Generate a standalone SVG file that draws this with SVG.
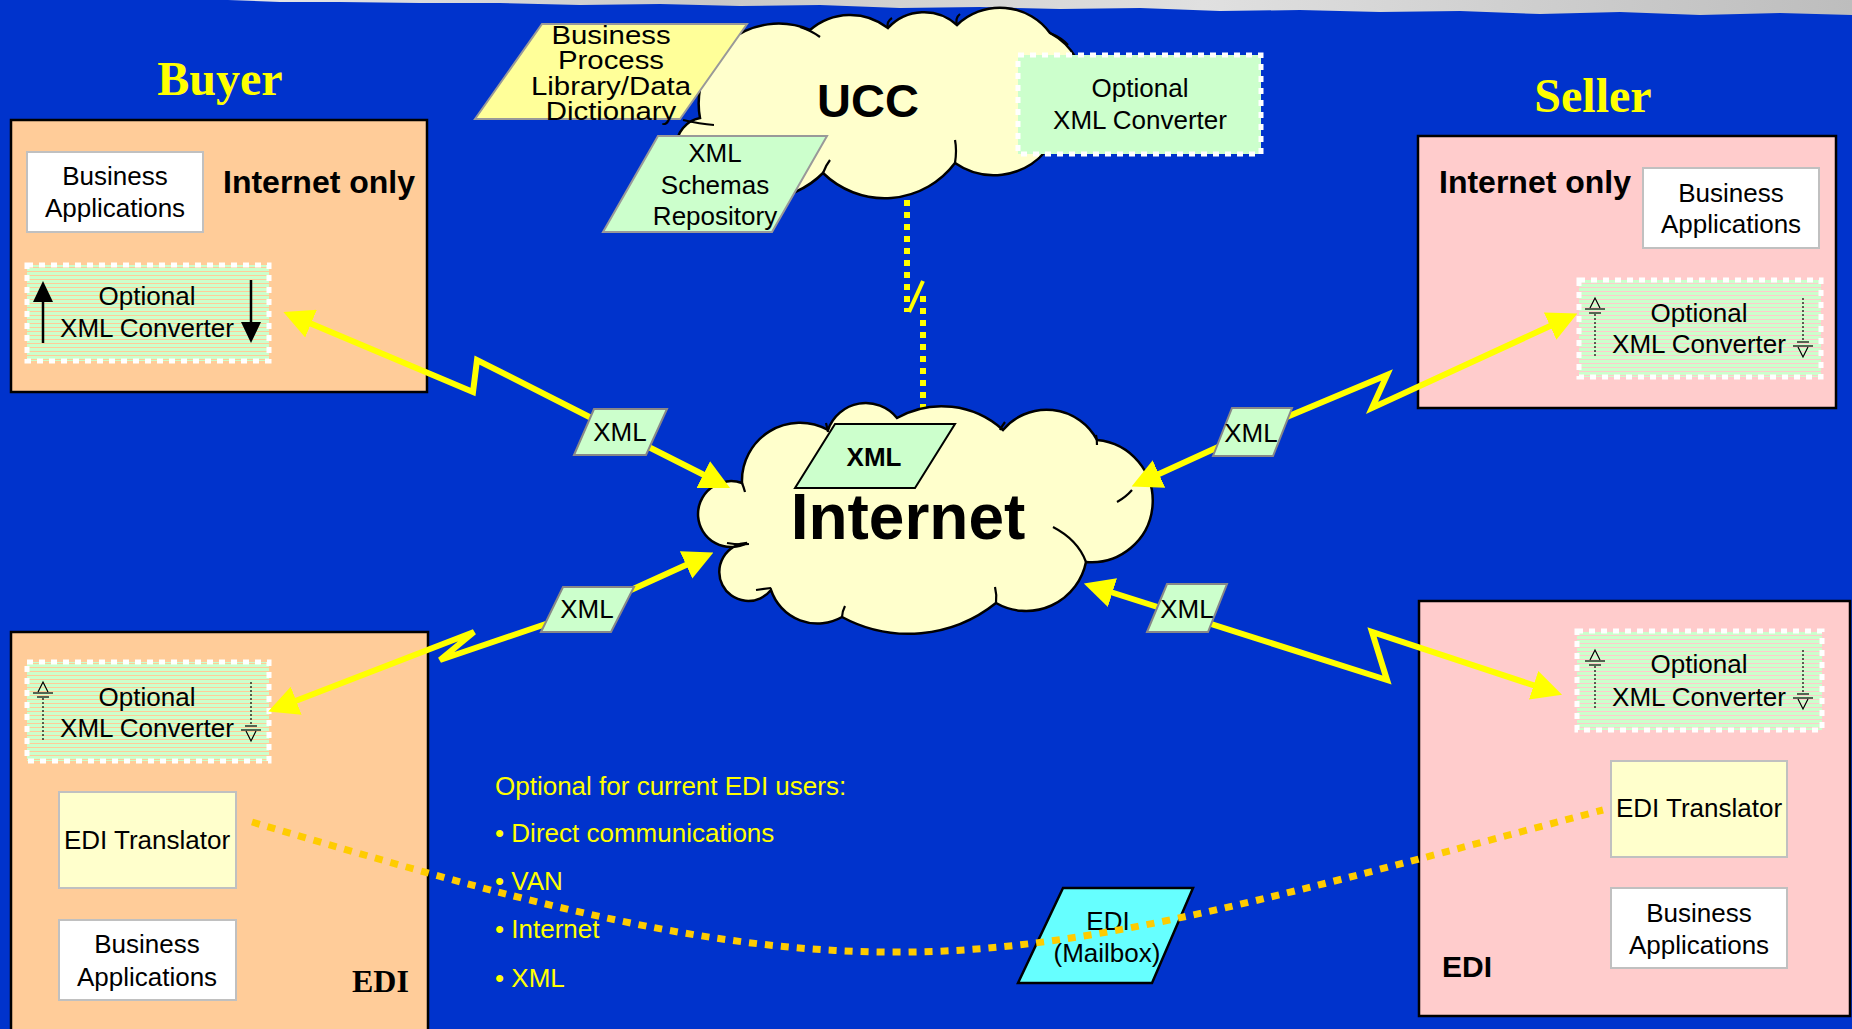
<svg xmlns="http://www.w3.org/2000/svg" width="1852" height="1029" viewBox="0 0 1852 1029">
<defs>
<style>
.t{font-family:"Liberation Sans",Arial,sans-serif;font-size:26px;fill:#000;text-anchor:middle}
.tb{font-family:"Liberation Sans",Arial,sans-serif;font-weight:bold;fill:#000}
.ttl{font-family:"Liberation Serif","Times New Roman",serif;font-weight:bold;font-size:48px;fill:#FFFF00;text-anchor:middle}
.box{stroke:#000;stroke-width:2.5}
.app{fill:#fff;stroke:#C0C0C0;stroke-width:2}
.trans{fill:#FFFFCC;stroke:#C0C0C0;stroke-width:2}
.conv{stroke:#fff;stroke-width:5;stroke-dasharray:6 6}
.cloud{fill:#FFFFCC;stroke:#000;stroke-width:2.5}
.lip{fill:none;stroke:#000;stroke-width:2.2}
.xmlp{fill:#CCFFCC;stroke:#888;stroke-width:2}
.conn{fill:none;stroke:#FFFF00;stroke-width:6;marker-start:url(#ah);marker-end:url(#ah)}
.note{font-family:"Liberation Sans",Arial,sans-serif;font-size:26px;fill:#FFFF00}
.sym{fill:none;stroke:#000;stroke-width:1.2}
</style>
<pattern id="stripes" patternUnits="userSpaceOnUse" width="8" height="4"><rect width="8" height="3" fill="#CCFFCC"/></pattern>
<linearGradient id="marble" x1="0" y1="0" x2="1" y2="0">
<stop offset="0" stop-color="#E8E8E8"/><stop offset="0.3" stop-color="#C8C8C8"/><stop offset="0.6" stop-color="#E0E0E0"/><stop offset="1" stop-color="#BDBDBD"/>
</linearGradient>
<marker id="ah" viewBox="0 0 10 10" refX="4" refY="5" markerWidth="5" markerHeight="5" orient="auto-start-reverse"><path d="M0,0 L10,5 L0,10 z" fill="#FFFF00"/></marker>
<g id="symUp">
<line class="sym" x1="0" y1="16" x2="0" y2="59" stroke-dasharray="2 2"/>
<path class="sym" d="M-5,10 L0,0 L5,10"/>
<line class="sym" x1="-10" y1="11" x2="10" y2="11" stroke-width="1.5"/>
<line class="sym" x1="-6" y1="15" x2="6" y2="15"/>
</g>
<g id="symDown">
<line class="sym" x1="0" y1="0" x2="0" y2="43" stroke-dasharray="2 2"/>
<line class="sym" x1="-10" y1="48" x2="10" y2="48" stroke-width="1.5"/>
<line class="sym" x1="-6" y1="44" x2="6" y2="44"/>
<path class="sym" d="M-5,49 L0,59 L5,49"/>
</g>
</defs>

<rect width="1852" height="1029" fill="#0033CC"/>
<polygon points="228,0 1852,0 1852,15 1780,13 1700,15 1620,12 1540,14 1460,11 1380,12 1300,10 1220,11 1140,8 1060,9 980,7 900,8 820,5 740,6 660,4 580,5 500,3 420,3 340,2 280,2" fill="url(#marble)"/>

<text class="ttl" x="220" y="95">Buyer</text>
<text class="ttl" x="1593" y="112">Seller</text>

<g id="buyer-internet">
<rect class="box" x="11" y="120" width="416" height="272" fill="#FFCC99"/>
<text class="tb" x="223" y="193" font-size="32">Internet only</text>
</g>
<g id="buyer-internet-apps">
<rect class="app" x="27" y="152" width="176" height="80"/>
<text class="t" x="115" y="185">Business</text>
<text class="t" x="115" y="217">Applications</text>
</g>
<g id="buyer-internet-conv">
<rect class="conv" x="27" y="265" width="242" height="96" fill="url(#stripes)"/>
<text class="t" x="147" y="305">Optional</text>
<text class="t" x="147" y="337">XML Converter</text>
<line x1="43" y1="343" x2="43" y2="300" stroke="#000" stroke-width="2.5"/>
<polygon points="33,302 43,281 53,302" fill="#000"/>
<line x1="251" y1="280" x2="251" y2="324" stroke="#000" stroke-width="2.5"/>
<polygon points="241,322 251,343 261,322" fill="#000"/>
</g>

<g id="buyer-edi">
<rect class="box" x="11" y="632" width="417" height="410" fill="#FFCC99"/>
<text x="352" y="992" font-family="Liberation Serif,serif" font-weight="bold" font-size="32" fill="#000">EDI</text>
</g>
<g id="buyer-edi-conv">
<rect class="conv" x="27" y="662" width="242" height="99" fill="url(#stripes)"/>
<text class="t" x="147" y="706">Optional</text>
<text class="t" x="147" y="737">XML Converter</text>
<use href="#symUp" x="43" y="682"/>
<use href="#symDown" x="251" y="682"/>
</g>
<g id="buyer-edi-translator">
<rect class="trans" x="59" y="792" width="177" height="96"/>
<text class="t" x="147" y="849">EDI Translator</text>
</g>
<g id="buyer-edi-apps">
<rect class="app" x="59" y="920" width="177" height="80"/>
<text class="t" x="147" y="953">Business</text>
<text class="t" x="147" y="986">Applications</text>
</g>

<g id="seller-internet">
<rect class="box" x="1418" y="136" width="418" height="272" fill="#FFCCCC"/>
<text class="tb" x="1439" y="193" font-size="32">Internet only</text>
</g>
<g id="seller-internet-apps">
<rect class="app" x="1643" y="168" width="176" height="80"/>
<text class="t" x="1731" y="202">Business</text>
<text class="t" x="1731" y="233">Applications</text>
</g>
<g id="seller-internet-conv">
<rect class="conv" x="1579" y="280" width="242" height="97" fill="url(#stripes)"/>
<text class="t" x="1699" y="322">Optional</text>
<text class="t" x="1699" y="353">XML Converter</text>
<use href="#symUp" x="1595" y="298"/>
<use href="#symDown" x="1803" y="298"/>
</g>

<g id="seller-edi">
<rect class="box" x="1419" y="601" width="431" height="415" fill="#FFCCCC"/>
<text class="tb" x="1442" y="977" font-size="30">EDI</text>
</g>
<g id="seller-edi-conv">
<rect class="conv" x="1577" y="631" width="245" height="99" fill="url(#stripes)"/>
<text class="t" x="1699" y="673">Optional</text>
<text class="t" x="1699" y="706">XML Converter</text>
<use href="#symUp" x="1595" y="650"/>
<use href="#symDown" x="1803" y="650"/>
</g>
<g id="seller-edi-translator">
<rect class="trans" x="1611" y="761" width="176" height="96"/>
<text class="t" x="1699" y="817">EDI Translator</text>
</g>
<g id="seller-edi-apps">
<rect class="app" x="1611" y="888" width="176" height="80"/>
<text class="t" x="1699" y="922">Business</text>
<text class="t" x="1699" y="954">Applications</text>
</g>

<g id="ucc">
<path class="cloud" d="M700 175 A29 29 0 0 1 700 118 A80 80 0 0 1 810 30 A61 61 0 0 1 888 28 A49 49 0 0 1 957 25 A62 62 0 0 1 1050 33 A66 66 0 0 1 1045 152 A68 68 0 0 1 955 163 A88 88 0 0 1 823 173 A88 88 0 0 1 700 175 Z"/>
<path class="lip" d="M683 120 Q700 124 714 125"/>
<path class="lip" d="M800 27 Q812 31 820 37"/>
<path class="lip" d="M888 28 Q886 22 892 18"/>
<path class="lip" d="M957 25 Q955 18 960 14"/>
<path class="lip" d="M1050 33 Q1062 38 1068 45"/>
<path class="lip" d="M955 163 Q957 150 955 140"/>
<path class="lip" d="M823 173 Q826 165 830 160"/>
<text class="tb" x="868" y="117" font-size="47" text-anchor="middle">UCC</text>
</g>
<g id="bp-library">
<polygon points="475,119 542,24 747,24 680,119" fill="#FFFF99" stroke="#999" stroke-width="2"/>
<g transform="matrix(1.13,0,0,1,611,0)">
<text class="t" x="0" y="44" font-size="23">Business</text>
<text class="t" x="0" y="69.5" font-size="23">Process</text>
<text class="t" x="0" y="95" font-size="23">Library/Data</text>
<text class="t" x="0" y="120.5" font-size="23">Dictionary</text>
</g>
</g>
<g id="xml-schemas">
<polygon points="603,232 658,136 827,136 772,232" fill="#CCFFCC" stroke="#999" stroke-width="2"/>
<text class="t" x="715" y="162">XML</text>
<text class="t" x="715" y="194">Schemas</text>
<text class="t" x="715" y="225">Repository</text>
</g>
<g id="ucc-conv">
<rect class="conv" x="1018" y="55" width="243" height="99" fill="#CCFFCC"/>
<text class="t" x="1140" y="97">Optional</text>
<text class="t" x="1140" y="129">XML Converter</text>
</g>

<g id="ucc-link">
<line x1="907" y1="200" x2="907" y2="312" stroke="#FFFF00" stroke-width="6" stroke-dasharray="6 6"/>
<line x1="923" y1="296" x2="923" y2="423" stroke="#FFFF00" stroke-width="6" stroke-dasharray="6 6"/>
<line x1="923" y1="281" x2="909" y2="312" stroke="#FFFF00" stroke-width="4"/>
</g>

<g id="internet">
<path class="cloud" d="M742 483 A58 58 0 0 1 828 430 A40 40 0 0 1 897 418 A91 91 0 0 1 1003 430 A57 57 0 0 1 1097 440 A61 61 0 0 1 1086 562 A61 61 0 0 1 996 603 A140 140 0 0 1 842 617 A49 49 0 0 1 771 590 A29 29 0 1 1 747 543 A33 33 0 1 1 742 483 Z"/>
<path class="lip" d="M727 543 Q738 545 749 544"/>
<path class="lip" d="M742 483 Q744 488 745 492"/>
<path class="lip" d="M756 590 L771 588"/>
<path class="lip" d="M842 617 Q842 612 845 606"/>
<path class="lip" d="M995 587 Q997 595 996 603"/>
<path class="lip" d="M1053 527 Q1078 540 1086 562"/>
<path class="lip" d="M1117 502 Q1126 497 1132 490"/>
<path class="lip" d="M1096 435 Q1097 439 1097 445"/>
<path class="lip" d="M1000 430 Q1002 426 1005 422"/>
<path class="lip" d="M826 423 Q827 427 828 432"/>
<polygon points="795,488 835,424 955,424 915,488" fill="#CCFFCC" stroke="#000" stroke-width="2"/>
<text class="tb" x="874" y="466" font-size="26" text-anchor="middle">XML</text>
<text class="tb" x="908" y="539" font-size="64" text-anchor="middle">Internet</text>
</g>

<g id="connectors">
<path class="conn" d="M300 319 L473 392 L477 360 L619 432 L714 480"/>
<path class="conn" d="M1561 321 L1372 408 L1387 375 L1251 432 L1148 479"/>
<path class="conn" d="M285 705 L474 632 L440 660 L587 610 L697 560"/>
<path class="conn" d="M1101 589 L1387 680 L1372 632 L1545 689"/>
</g>

<g id="xml-label-1"><polygon class="xmlp" points="574,455 594,409 667,409 646,455"/><text class="t" x="620" y="441">XML</text></g>
<g id="xml-label-2"><polygon class="xmlp" points="1213,456 1232,408 1292,408 1273,456"/><text class="t" x="1251" y="442">XML</text></g>
<g id="xml-label-3"><polygon class="xmlp" points="541,632 563,587 634,587 611,632"/><text class="t" x="587" y="618">XML</text></g>
<g id="xml-label-4"><polygon class="xmlp" points="1147,632 1167,584 1227,584 1208,632"/><text class="t" x="1187" y="618">XML</text></g>

<g id="edi-note">
<text class="note" x="495" y="795">Optional for current EDI users:</text>
<text class="note" x="495" y="842">• Direct communications</text>
<text class="note" x="495" y="890">• VAN</text>
<text class="note" x="495" y="938">• Internet</text>
<text class="note" x="495" y="987">• XML</text>
</g>

<g id="edi-mailbox">
<polygon points="1018,983 1063,888 1193,888 1152,983" fill="#66FFFF" stroke="#000" stroke-width="2.5"/>
<text class="t" x="1108" y="930">EDI</text>
<text class="t" x="1107" y="962">(Mailbox)</text>
</g>

<g id="edi-link">
<path d="M252 822 C500 895 700 955 910 952 C1100 950 1300 890 1603 810" fill="none" stroke="#FFCC00" stroke-width="7" stroke-dasharray="8 8"/>
</g>
</svg>
